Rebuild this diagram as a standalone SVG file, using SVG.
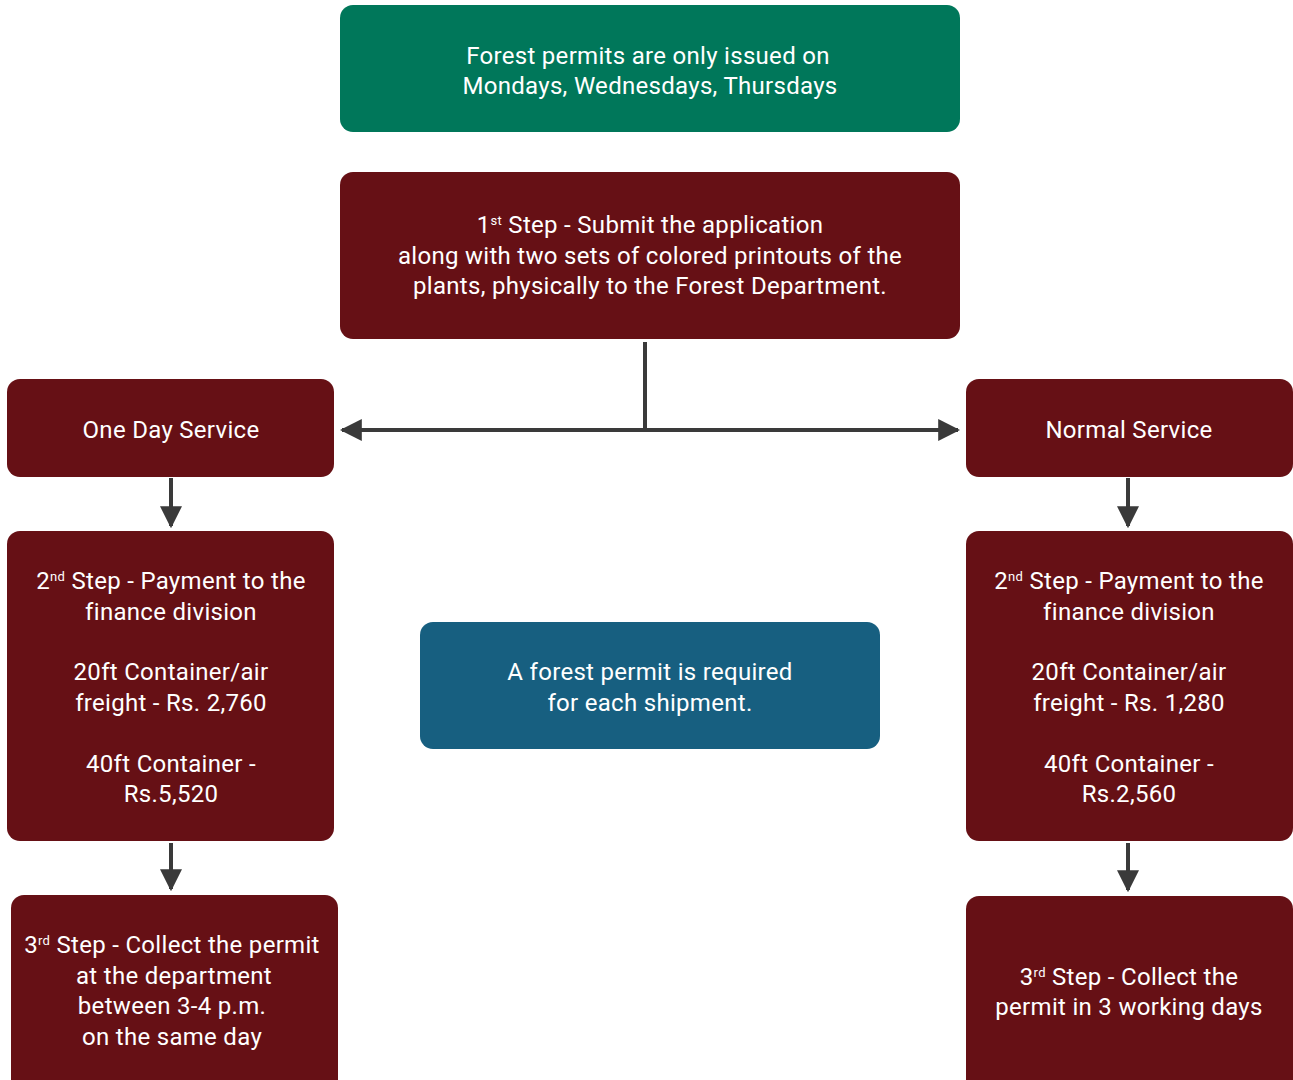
<svg xmlns="http://www.w3.org/2000/svg" width="1293" height="1080" viewBox="0 0 1293 1080">
<style>
.red{fill:#661015}
.t{font-family:Roboto,"Liberation Sans",sans-serif;font-size:24px;letter-spacing:0.3px;fill:#ffffff;text-anchor:middle}
.sup{font-size:13px}
.c{stroke:#3a3a3a;stroke-width:4;fill:none}
</style>
<defs>
<marker id="ah" viewBox="0 0 10 10" refX="9" refY="5" markerWidth="5.5" markerHeight="6" markerUnits="strokeWidth" orient="auto">
<path d="M0,0 L10,5 L0,10 Z" fill="#3a3a3a"/>
</marker>
</defs>
<rect width="1293" height="1080" fill="#ffffff"/>
<g id="connectors">
<path class="c" d="M645,342 V430"/>
<path class="c" d="M645,430 H342" marker-end="url(#ah)"/>
<path class="c" d="M645,430 H958" marker-end="url(#ah)"/>
<path class="c" d="M171,478 V526" marker-end="url(#ah)"/>
<path class="c" d="M1128,478 V526" marker-end="url(#ah)"/>
<path class="c" d="M171,843 V889" marker-end="url(#ah)"/>
<path class="c" d="M1128,843 V890" marker-end="url(#ah)"/>
</g>
<g id="days">
<rect x="340" y="5" width="620" height="127" rx="13" fill="#00775A"/>
<text class="t" x="648" y="64">Forest permits are only issued on</text>
<text class="t" x="650" y="94">Mondays, Wednesdays, Thursdays</text>
</g>
<g id="step1">
<rect class="red" x="340" y="172" width="620" height="167" rx="13"/>
<text class="t" x="650" y="233">1<tspan class="sup" dy="-8">st</tspan><tspan dy="8"> Step - Submit the application</tspan></text>
<text class="t" x="650" y="264">along with two sets of colored printouts of the</text>
<text class="t" x="650" y="294">plants, physically to the Forest Department.</text>
</g>
<g id="oneday">
<rect class="red" x="7" y="379" width="327" height="98" rx="13"/>
<text class="t" x="171" y="438">One Day Service</text>
</g>
<g id="normal">
<rect class="red" x="966" y="379" width="327" height="98" rx="13"/>
<text class="t" x="1129" y="438">Normal Service</text>
</g>
<g id="step2-left">
<rect class="red" x="7" y="531" width="327" height="310" rx="13"/>
<text class="t" x="171" y="589">2<tspan class="sup" dy="-8">nd</tspan><tspan dy="8"> Step - Payment to the</tspan></text>
<text class="t" x="171" y="620">finance division</text>
<text class="t" x="171" y="680">20ft Container/air</text>
<text class="t" x="171" y="711">freight - Rs. 2,760</text>
<text class="t" x="171" y="772">40ft Container -</text>
<text class="t" x="171" y="802">Rs.5,520</text>
</g>
<g id="step2-right">
<rect class="red" x="966" y="531" width="327" height="310" rx="13"/>
<text class="t" x="1129" y="589">2<tspan class="sup" dy="-8">nd</tspan><tspan dy="8"> Step - Payment to the</tspan></text>
<text class="t" x="1129" y="620">finance division</text>
<text class="t" x="1129" y="680">20ft Container/air</text>
<text class="t" x="1129" y="711">freight - Rs. 1,280</text>
<text class="t" x="1129" y="772">40ft Container -</text>
<text class="t" x="1129" y="802">Rs.2,560</text>
</g>
<g id="note">
<rect x="420" y="622" width="460" height="127" rx="13" fill="#175F80"/>
<text class="t" x="650" y="680">A forest permit is required</text>
<text class="t" x="650" y="711">for each shipment.</text>
</g>
<g id="step3-left">
<rect class="red" x="11" y="895" width="327" height="200" rx="13"/>
<text class="t" x="172" y="953">3<tspan class="sup" dy="-8">rd</tspan><tspan dy="8"> Step - Collect the permit</tspan></text>
<text class="t" x="174" y="984">at the department</text>
<text class="t" x="172" y="1014">between 3-4 p.m.</text>
<text class="t" x="172" y="1045">on the same day</text>
</g>
<g id="step3-right">
<rect class="red" x="966" y="896" width="327" height="200" rx="13"/>
<text class="t" x="1129" y="985">3<tspan class="sup" dy="-8">rd</tspan><tspan dy="8"> Step - Collect the</tspan></text>
<text class="t" x="1129" y="1015">permit in 3 working days</text>
</g>
</svg>
